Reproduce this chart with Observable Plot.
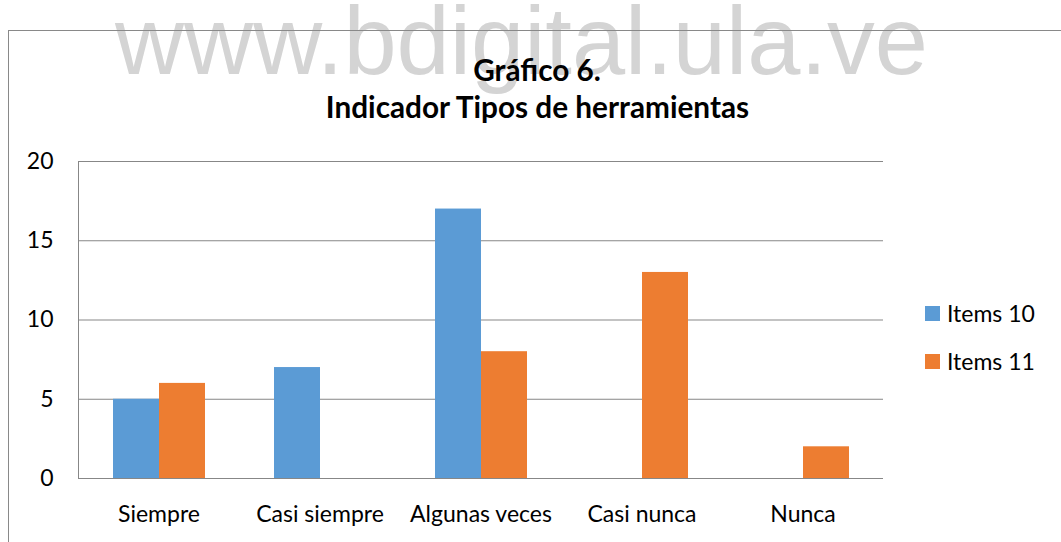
<!DOCTYPE html>
<html>
<head>
<meta charset="utf-8">
<script src="https://cdn.jsdelivr.net/npm/d3@7"></script>
<script src="https://cdn.jsdelivr.net/npm/@observablehq/plot@0.6"></script>
<style>
  html, body { margin: 0; padding: 0; background: #fff; }
  #wrap { position: relative; width: 1061px; height: 542px; overflow: hidden; background: #fff; }
  #wrap > * { position: absolute; left: 0; top: 0; }
  #border { left: 8px; top: 30px; width: 1200px; height: 700px; border: 1px solid #898989; box-sizing: border-box; }
</style>
</head>
<body>
<div id="wrap">
  <svg id="bg" width="1061" height="542"></svg>
  <div id="border"></div>
  <div id="chart"></div>
  <svg id="fg" width="1061" height="542"></svg>
</div>
<script>
// ---- data ----
const categories = ["Siempre", "Casi siempre", "Algunas veces", "Casi nunca", "Nunca"];
const series = ["Items 10", "Items 11"];
const items10 = [5, 7, 17, 0, 0];
const items11 = [6, 0, 8, 13, 2];
const yTicks = [0, 5, 10, 15, 20];
const colors = ["#5B9BD5", "#ED7D31"];
const titleLines = ["Gráfico 6.", "Indicador Tipos de herramientas"];
const watermark = "www.bdigital.ula.ve";

const values = [items10, items11];
const data = categories.flatMap((c, i) => series.map((s, j) => ({cat: c, s, v: values[j][i]})));

// ---- text sizing helper ----
const ctx = document.createElement("canvas").getContext("2d");
function fitSize(text, weight, family, target) {
  ctx.font = `${weight} 100px ${family}`;
  return 100 * target / ctx.measureText(text).width;
}

const grid = "#878787";
const chart = Plot.plot({
  width: 1061,
  height: 542,
  marginLeft: 77,
  marginRight: 178,
  marginTop: 161,
  marginBottom: 64,
  fx: {domain: categories, padding: 0, axis: null, label: null},
  x: {domain: series, paddingInner: 0, paddingOuter: 0.75, axis: null},
  y: {domain: [0, 20], axis: null},
  color: {domain: series, range: colors},
  style: {background: "transparent", fontFamily: "Lato", fontSize: "23px", color: "#000"},
  marks: [
    Plot.gridY(yTicks, {stroke: grid, strokeOpacity: 1}),
    Plot.frame({anchor: "left", facetAnchor: "left", stroke: grid}),
    Plot.barY(data.filter(d => d.v > 0), {fx: "cat", x: "s", y: "v", fill: "s"}),
    Plot.ruleY([0], {stroke: grid}),
    Plot.axisY(yTicks, {tickSize: 0, tickPadding: 25, fill: "#000", label: null}),
    Plot.axisFx({anchor: "bottom", tickSize: 0, tickPadding: 27, fill: "#000", label: null})
  ]
});
document.getElementById("chart").appendChild(chart);

// ---- watermark ----
const bg = d3.select("#bg");
const wmSize = fitSize(watermark, "normal", "'Liberation Sans'", 813);
bg.append("text").attr("x", 521.5).attr("y", 74).attr("text-anchor", "middle")
  .attr("font-family", "Liberation Sans").attr("font-size", wmSize)
  .attr("fill", "#d4d4d4").text(watermark);

// ---- title ----
const fg = d3.select("#fg");
const tSize = fitSize(titleLines[1], "bold", "Lato", 425);
[[titleLines[0], 81, 537], [titleLines[1], 118, 537.5]].forEach(([t, y, x]) => {
  fg.append("text").attr("x", x).attr("y", y).attr("text-anchor", "middle")
    .attr("font-family", "Lato").attr("font-weight", "bold").attr("font-size", tSize)
    .attr("fill", "#000").text(t);
});

// ---- legend ----
series.forEach((s, i) => {
  const yb = 322 + i * 48;
  fg.append("rect").attr("x", 925).attr("y", yb - 16).attr("width", 15).attr("height", 15).attr("fill", colors[i]);
  fg.append("text").attr("x", 947).attr("y", yb).attr("font-family", "Lato").attr("font-size", 23)
    .attr("fill", "#000").text(s);
});
</script>
</body>
</html>
